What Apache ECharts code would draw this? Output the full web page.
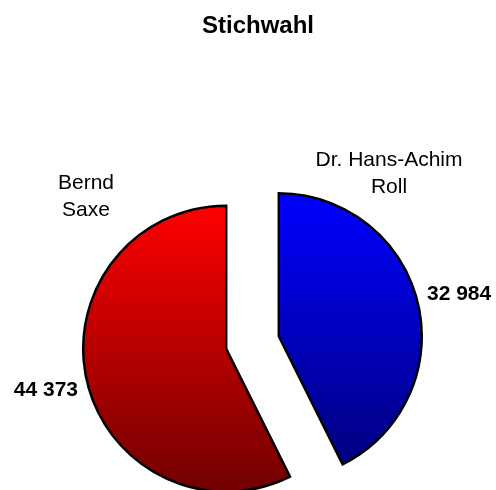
<!DOCTYPE html>
<html>
<head>
<meta charset="utf-8">
<script src="https://cdn.jsdelivr.net/npm/echarts@6/dist/echarts.min.js"></script>
<style>
  html, body { margin: 0; padding: 0; background: #ffffff; }
  #chart { width: 496px; height: 490px; }
</style>
</head>
<body>
<div id="chart"></div>
<script>
// Stichwahl – votes per candidate
const candidates = ['Dr. Hans-Achim\nRoll', 'Bernd\nSaxe'];
const votes = [32984, 44373];
const chartTitle = 'Stichwahl';

// slice fills: top colour -> bottom colour
const sliceColors = [
  ['#0000ff', '#000080'],
  ['#ff0000', '#700000']
];

// label anchor points (name labels, value labels)
const nameLabelPos = [
  { x: 389, y: 174, align: 'center' },
  { x: 86, y: 197, align: 'center' }
];
const valueLabelPos = [
  { x: 427, y: 294, align: 'left' },
  { x: 78, y: 390, align: 'right' }
];

const FONT = '"Liberation Sans", Arial, sans-serif';

function fmtVotes(v) {
  return String(v).replace(/\B(?=(\d{3})+(?!\d))/g, ' ');
}

function gradient(c) {
  return new echarts.graphic.LinearGradient(0, 0, 0, 1, [
    { offset: 0, color: c[0] },
    { offset: 1, color: c[1] }
  ]);
}

const pieData = candidates.map((name, i) => ({
  name: name,
  value: votes[i],
  selected: true,
  itemStyle: { color: gradient(sliceColors[i]) }
}));

// candidate names and vote counts as text elements
const labelElements = [];
candidates.forEach((name, i) => {
  labelElements.push({
    type: 'text',
    x: nameLabelPos[i].x,
    y: nameLabelPos[i].y,
    silent: true,
    style: {
      text: name,
      fill: '#000000',
      fontFamily: FONT,
      fontSize: 21,
      lineHeight: 27,
      align: nameLabelPos[i].align,
      verticalAlign: 'middle'
    }
  });
  labelElements.push({
    type: 'text',
    x: valueLabelPos[i].x,
    y: valueLabelPos[i].y,
    silent: true,
    style: {
      text: fmtVotes(votes[i]),
      fill: '#000000',
      fontFamily: FONT,
      fontSize: 21,
      fontWeight: 'bold',
      align: valueLabelPos[i].align,
      verticalAlign: 'middle'
    }
  });
});

const chart = echarts.init(document.getElementById('chart'), null, { renderer: 'canvas' });

chart.setOption({
  backgroundColor: '#ffffff',
  animation: false,
  title: {
    text: chartTitle,
    left: 197,
    top: 9,
    textStyle: { fontFamily: FONT, fontSize: 24, fontWeight: 'bold', color: '#000000' }
  },
  graphic: labelElements,
  series: [
    {
      type: 'pie',
      name: 'Stimmen',
      center: [252.5, 342.5],
      radius: 143,
      startAngle: 90,
      clockwise: true,
      selectedMode: 'multiple',
      selectedOffset: 27,
      animation: false,
      emphasis: { disabled: true },
      label: { show: false },
      labelLine: { show: false },
      itemStyle: { borderColor: '#000000', borderWidth: 2.5, borderJoin: 'miter' },
      data: pieData
    }
  ]
});
</script>
</body>
</html>
